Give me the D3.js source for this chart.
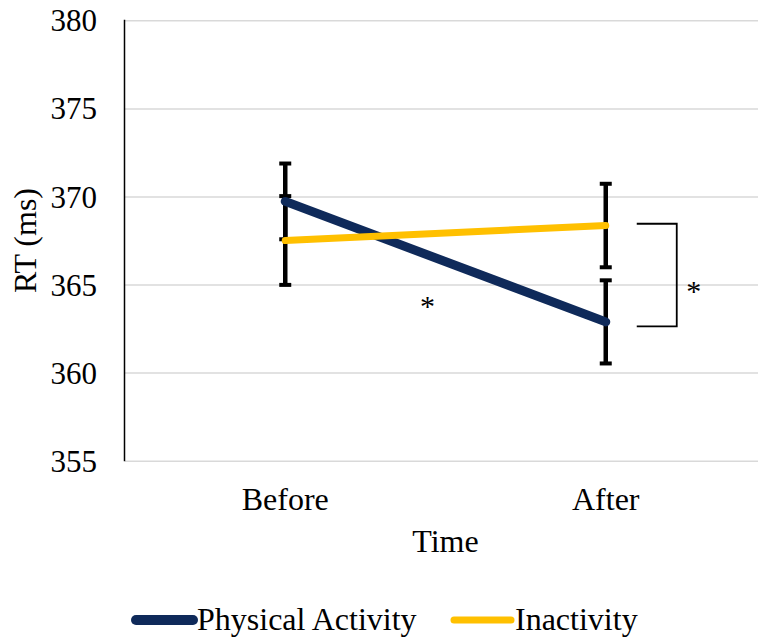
<!DOCTYPE html>
<html>
<head>
<meta charset="utf-8">
<script src="https://cdn.jsdelivr.net/npm/d3@7"></script>
<style>
  body { margin: 0; background: #fff; }
  text { font-family: "Liberation Serif", "Times New Roman", serif; fill: #000; }
</style>
</head>
<body>
<div id="chart"></div>
<script>
const categories = ["Before", "After"]
const physicalActivity = [369.72, 362.88]
const inactivity = [367.5, 368.35]
const physicalActivityErr = [2.15, 2.36]
const inactivityErr = [2.52, 2.37]
const yTicks = [355, 360, 365, 370, 375, 380]
const seriesNames = ["Physical Activity", "Inactivity"]
const seriesColors = ["#0f2a5a", "#ffc000"]

const W = 758, H = 637
const margin = ({top: 20.3, right: -8, bottom: 176.3, left: 125})
const width = W - margin.left - margin.right
const height = H - margin.top - margin.bottom

const svg = d3.select("#chart").append("svg")
    .attr("width", W)
    .attr("height", H)

const g = svg.append("g")
    .attr("transform", `translate(${margin.left},${margin.top})`)

const x = d3.scaleBand().domain(categories).range([0, width])
const y = d3.scaleLinear().domain([355, 380]).range([height, 0])
const cx = d => x(d) + x.bandwidth() / 2

// gridlines
const grid = g.append("g")
    .call(d3.axisLeft(y).tickValues(yTicks).tickSize(-width).tickFormat(""))
grid.select(".domain").remove()
grid.selectAll("line").attr("stroke", "#d9d9d9").attr("stroke-width", 1.5)

// y axis labels
const yAxis = g.append("g")
    .call(d3.axisLeft(y).tickValues(yTicks).tickSize(0).tickPadding(28))
yAxis.select(".domain").remove()
yAxis.selectAll("text").style("font-size", "31px")
    .attr("dy", "0.34em")

g.append("line")
    .attr("x1", -0.5).attr("x2", -0.5)
    .attr("y1", -0.5).attr("y2", height + 0.5)
    .attr("stroke", "#000").attr("stroke-width", 1.5)

// x labels
g.append("g").selectAll("text")
    .data(categories)
    .join("text")
    .attr("x", d => cx(d))
    .attr("y", 510.5 - margin.top)
    .attr("text-anchor", "middle")
    .style("font-size", "32px")
    .text(d => d)

g.append("text")
    .attr("x", width / 2)
    .attr("y", 552 - margin.top)
    .attr("text-anchor", "middle")
    .style("font-size", "32px")
    .text("Time")

svg.append("text")
    .attr("transform", `translate(36,${margin.top + height / 2}) rotate(-90)`)
    .attr("text-anchor", "middle")
    .style("font-size", "32px")
    .text("RT (ms)")

// error bars
const errData = []
categories.forEach((c, i) => {
    errData.push({c, v: physicalActivity[i], e: physicalActivityErr[i]})
    errData.push({c, v: inactivity[i], e: inactivityErr[i]})
})
const eb = g.append("g").selectAll("g").data(errData).join("g")
eb.append("line")
    .attr("x1", d => cx(d.c)).attr("x2", d => cx(d.c))
    .attr("y1", d => y(d.v + d.e)).attr("y2", d => y(d.v - d.e))
    .attr("stroke", "#000").attr("stroke-width", 4.5)
eb.selectAll(".cap").data(d => [{c: d.c, v: d.v + d.e}, {c: d.c, v: d.v - d.e}])
    .join("line")
    .attr("class", "cap")
    .attr("x1", d => cx(d.c) - 6).attr("x2", d => cx(d.c) + 6)
    .attr("y1", d => y(d.v)).attr("y2", d => y(d.v))
    .attr("stroke", "#000").attr("stroke-width", 4)

// lines
const line = d3.line().x((d, i) => cx(categories[i])).y(d => y(d))
const series = [physicalActivity, inactivity]
g.append("g").selectAll("path")
    .data(series)
    .join("path")
    .attr("d", d => line(d))
    .attr("fill", "none")
    .attr("stroke", (d, i) => seriesColors[i])
    .attr("stroke-width", (d, i) => i === 0 ? 9 : 7)
    .attr("stroke-linecap", "round")

// significance bracket
const bx0 = cx("After") + 31, bx1 = cx("After") + 71
const bTop = y(368.45), bBot = y(362.63)
g.append("path")
    .attr("d", `M${bx0},${bTop}H${bx1}V${bBot}H${bx0}`)
    .attr("fill", "none").attr("stroke", "#000").attr("stroke-width", 1.8)
g.append("text")
    .attr("x", bx1 + 17).attr("y", y(365) + 16)
    .attr("text-anchor", "middle")
    .style("font-size", "30px")
    .text("*")
g.append("text")
    .attr("x", (cx("Before") + cx("After")) / 2 - 18).attr("y", y(364.15) + 16)
    .attr("text-anchor", "middle")
    .style("font-size", "30px")
    .text("*")

// legend
const legend = svg.append("g")
const legX = [136, 454]
seriesNames.forEach((name, i) => {
    legend.append("line")
        .attr("x1", legX[i]).attr("x2", legX[i] + 57)
        .attr("y1", 620).attr("y2", 620)
        .attr("stroke", seriesColors[i])
        .attr("stroke-width", i === 0 ? 10 : 7)
        .attr("stroke-linecap", "round")
    legend.append("text")
        .attr("x", legX[i] + 61).attr("y", 630)
        .style("font-size", "32px")
        .text(name)
})
</script>
</body>
</html>
